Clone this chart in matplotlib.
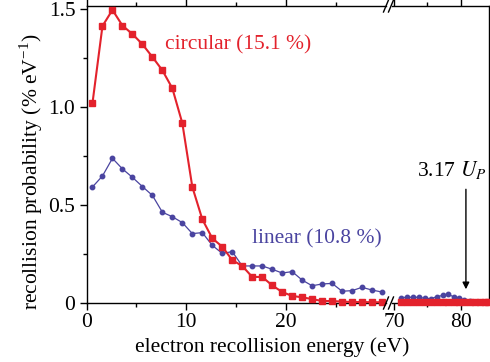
import matplotlib
matplotlib.use("Agg")
import matplotlib.pyplot as plt
from matplotlib.ticker import FixedLocator
from matplotlib.lines import Line2D

plt.rcParams['font.family'] = ['Liberation Serif', 'DejaVu Serif']
plt.rcParams['mathtext.fontset'] = 'stix'

# ---- data ----
energy_left = [0.6, 1.6, 2.6, 3.6, 4.6, 5.6, 6.6, 7.6, 8.6, 9.6,
               10.6, 11.6, 12.6, 13.6, 14.6, 15.6, 16.6, 17.6, 18.6, 19.6,
               20.6, 21.6, 22.6, 23.6, 24.6, 25.6, 26.6, 27.6, 28.6, 29.6]
circular_left = [1.02, 1.413, 1.495, 1.415, 1.372, 1.32, 1.255, 1.187, 1.095, 0.917,
                 0.592, 0.427, 0.33, 0.287, 0.219, 0.189, 0.133, 0.133, 0.09, 0.056,
                 0.036, 0.029, 0.020, 0.010, 0.010, 0.007, 0.005, 0.005, 0.004, 0.004]
linear_left = [0.592, 0.648, 0.738, 0.684, 0.641, 0.594, 0.549, 0.463, 0.440, 0.41,
               0.354, 0.359, 0.294, 0.253, 0.262, 0.189, 0.189, 0.189, 0.172, 0.153,
               0.16, 0.117, 0.088, 0.097, 0.10, 0.06, 0.063, 0.08, 0.066, 0.056]

energy_right = [71.0, 71.9, 72.8, 73.7, 74.6, 75.5, 76.4, 77.3, 78.1, 78.9,
                79.7, 80.5, 81.3, 82.1, 82.9, 83.6, 84.1]
circular_right = [0.003, 0.003, 0.003, 0.003, 0.003, 0.003, 0.003, 0.003, 0.003, 0.003,
                  0.003, 0.003, 0.003, 0.003, 0.003, 0.003, 0.003]
linear_right = [0.027, 0.029, 0.029, 0.029, 0.024, 0.022, 0.032, 0.039, 0.044, 0.032,
                0.026, 0.015, 0.010, 0.005, 0.004, 0.004, 0.004]

xticks_left = [0, 10, 20]
xticks_right = [70, 80]
yticks = [0, 0.5, 1.0, 1.5]
ytick_labels = ['0', '0.5', '1.0', '1.5']

label_circ = 'circular (15.1 %)'
label_lin = 'linear (10.8 %)'
label_up = '3.17 $U_P$'
up_energy = 80.75

RED = '#e3222c'
BLUE = '#4a44a0'
FS = 15.5

W, H = 490, 362
fig = plt.figure(figsize=(W / 100, H / 100), dpi=100)

def fx(px):
    return px / W

def fy(py):
    return 1 - py / H

y_top, y_bot = 6, 303
axL = fig.add_axes([fx(86.5), fy(y_bot), fx(386 - 86.5), (y_bot - y_top) / H])
axR = fig.add_axes([fx(392), fy(y_bot), fx(489 - 392), (y_bot - y_top) / H])

ylim = (0, 1.515)
for ax in (axL, axR):
    ax.set_ylim(*ylim)
    for s in ax.spines.values():
        s.set_linewidth(1.0)

axL.set_xlim(0, 30)
axR.set_xlim(69.7, 84.2)

# plot
axL.plot(energy_left, linear_left, '-o', color=BLUE, lw=0.9, ms=3.2, clip_on=False, zorder=3)
axL.plot(energy_left, circular_left, '-s', color=RED, lw=1.5, ms=3.8, clip_on=False, zorder=4)
axR.plot(energy_right, linear_right, '-o', color=BLUE, lw=0.9, ms=3.2, clip_on=False, zorder=3)
axR.plot(energy_right, circular_right, '-s', color=RED, lw=1.5, ms=3.8, clip_on=False, zorder=4)

# spines
axL.spines['right'].set_visible(False)
axR.spines['left'].set_visible(False)

# ticks
axL.xaxis.set_major_locator(FixedLocator(xticks_left))
axL.xaxis.set_minor_locator(FixedLocator([5, 15, 25]))
axR.xaxis.set_major_locator(FixedLocator(xticks_right))
axR.xaxis.set_minor_locator(FixedLocator([75]))
axL.yaxis.set_major_locator(FixedLocator(yticks))
axL.yaxis.set_minor_locator(FixedLocator([0.25, 0.75, 1.25]))
axL.set_yticklabels(ytick_labels)
axR.set_yticks([])

for ax in (axL, axR):
    ax.tick_params(axis='x', which='major', direction='out', length=5, width=1,
                   labelsize=FS, pad=2, top=True)
    ax.tick_params(axis='x', which='minor', direction='out', length=3, width=1, top=True)
axL.tick_params(axis='y', which='major', direction='out', length=5, width=1, labelsize=FS, pad=3)
axL.tick_params(axis='y', which='minor', direction='out', length=3, width=1)

fig.text(fx(31), fy(172), 'recollision probability (% eV$^{\\mathregular{-1}}$)',
         fontsize=FS, rotation=90, ha='center', va='center')
fig.text(fx(272), fy(347), 'electron recollision energy (eV)', fontsize=FS,
         ha='center', va='center')

# annotations
axL.text(7.9, 1.315, label_circ, color=RED, fontsize=FS, ha='left', va='center')
axL.text(16.6, 0.325, label_lin, color=BLUE, fontsize=FS, ha='left', va='center')
axR.text(78.6, 0.68, label_up, color='black', fontsize=FS, ha='center', va='center')
axR.annotate('', xy=(up_energy, 0.07), xytext=(up_energy, 0.58),
             arrowprops=dict(arrowstyle='-|>', color='black', lw=1.0,
                             mutation_scale=10, shrinkA=0, shrinkB=0))

# break marks
for ybase in (y_top, y_bot):
    for x0 in (383.5, 388.5):
        fig.add_artist(Line2D([fx(x0), fx(x0 + 5)], [fy(ybase + 6), fy(ybase - 6)],
                              color='black', lw=1.0))

fig.savefig('out.png', dpi=100)
